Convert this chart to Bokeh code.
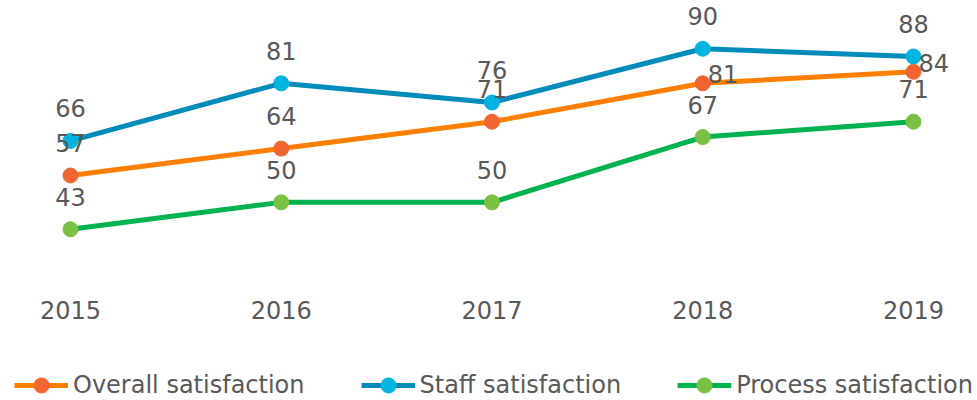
from bokeh.plotting import figure
from bokeh.models import Range1d, FixedTicker, Legend, LegendItem, ColumnDataSource, LinearAxis
from bokeh.core.properties import value
from bokeh.embed import file_html
from bokeh.resources import INLINE

years = [2015, 2016, 2017, 2018, 2019]
year_labels = ["2015", "2016", "2017", "2018", "2019"]
overall = [57, 64, 71, 81, 84]
staff = [66, 81, 76, 90, 88]
process = [43, 50, 50, 67, 71]
series_names = ["Overall satisfaction", "Staff satisfaction", "Process satisfaction"]
# label placement for each point (Excel-style data label positions)
overall_pos = ["above", "above", "above", "right", "right"]
staff_pos = ["above"] * 5
process_pos = ["above"] * 5

FONT = "DejaVu Sans"
TXT = "#595959"

p = figure(width=977, height=400, output_backend="svg", toolbar_location=None,
           x_range=Range1d(2014.668, 2019.304), y_range=Range1d(-1.60, 102.57),
           x_axis_location=None, y_axis_location=None, min_border=0)
p.grid.visible = False
p.outline_line_color = None
p.background_fill_color = "white"
p.border_fill_color = "white"

# category axis drawn at the bottom edge of the plotting area
ax = LinearAxis(fixed_location=30.18, ticker=FixedTicker(ticks=years),
                major_label_overrides={y: l for y, l in zip(years, year_labels)},
                axis_line_color=None, major_tick_line_color=None, minor_tick_line_color=None,
                major_tick_out=0, major_tick_in=0,
                major_label_text_font=FONT, major_label_text_font_size="24px",
                major_label_text_color=TXT, major_label_standoff=23)
p.add_layout(ax, "below")

styles = [
    (overall, "#FF8000", "#F26533", overall_pos),
    (staff, "#008CBA", "#00B4E0", staff_pos),
    (process, "#00B34E", "#7AC143", process_pos),
]

items = []
for (vals, lc, mc, pos), name in zip(styles, series_names):
    src = ColumnDataSource(dict(x=years, y=vals))
    lr = p.line("x", "y", source=src, line_color=lc, line_width=5)
    sr = p.scatter("x", "y", source=src, size=15, fill_color=mc, line_color=mc)
    items.append(LegendItem(label=name, renderers=[lr, sr]))

for (vals, lc, mc, pos) in styles:
    ax_above = [x for x, q in zip(years, pos) if q == "above"]
    ay_above = [v for v, q in zip(vals, pos) if q == "above"]
    ax_right = [x for x, q in zip(years, pos) if q == "right"]
    ay_right = [v for v, q in zip(vals, pos) if q == "right"]
    if ax_above:
        p.text(x=ax_above, y=ay_above, text=[str(v) for v in ay_above],
               text_align="center", text_baseline="alphabetic", y_offset=-32.5,
               text_font=value(FONT), text_font_size="24px", text_color=TXT)
    if ax_right:
        p.text(x=ax_right, y=ay_right, text=[str(v) for v in ay_right],
               text_align="left", text_baseline="alphabetic", x_offset=5, y_offset=-9,
               text_font=value(FONT), text_font_size="24px", text_color=TXT)

legend = Legend(items=items, orientation="horizontal", location=(14, -4),
                spacing=56, padding=0, margin=0, glyph_width=54, glyph_height=38,
                label_standoff=5, label_text_font=FONT, label_text_font_size="24px",
                label_text_color=TXT, border_line_color=None, background_fill_alpha=0)
p.add_layout(legend)

open("out.html", "w").write(file_html(p, INLINE))
